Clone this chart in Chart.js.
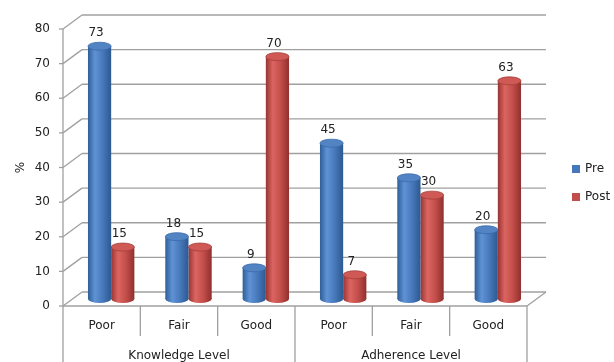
<!DOCTYPE html>
<html>
<head>
<meta charset="utf-8">
<script src="https://cdn.jsdelivr.net/npm/chart.js@4.4.0/dist/chart.umd.min.js"></script>
<style>
  html, body { margin: 0; padding: 0; background: #fff; }
  #wrap { width: 614px; height: 362px; }
</style>
</head>
<body>
<div id="wrap"><canvas id="chart"></canvas></div>
<script>
// data
const categories = ['Poor', 'Fair', 'Good', 'Poor', 'Fair', 'Good'];
const groups = ['Knowledge Level', 'Adherence Level'];
const groupSize = 3;
const seriesNames = ['Pre', 'Post'];
const preValues = [73, 18, 9, 45, 35, 20];
const postValues = [15, 15, 70, 7, 30, 63];
const yMin = 0, yMax = 80, yStep = 10;

// fake 3d depth (back wall offset)
const DX = 19, DY = -14;
const RY = 4;
const FONT = 'DejaVu Sans';
const BAR_SHARE = 0.6;

const blue = { stops: ['#2f5e98', '#5f93d6', '#4677b9', '#2c5990'], top: '#5284c4', rim: '#3a69a8' };
const red = { stops: ['#983432', '#dc6561', '#c24d49', '#8f302e'], top: '#cf5955', rim: '#a53d3a' };

function barLeft(chart, dataIndex, datasetIndex) {
  const xs = chart.scales.x;
  const cw = xs.width / categories.length;
  const pair = cw * BAR_SHARE;
  return { left: xs.getPixelForValue(dataIndex) - pair / 2 + datasetIndex * pair / 2, w: pair / 2 };
}

function cylFill(pal) {
  return function (c) {
    const chart = c.chart;
    if (!chart.chartArea || c.dataIndex === undefined) return pal.stops[2];
    const b = barLeft(chart, c.dataIndex, c.datasetIndex);
    const g = chart.ctx.createLinearGradient(b.left, 0, b.left + b.w, 0);
    g.addColorStop(0, pal.stops[0]);
    g.addColorStop(0.3, pal.stops[1]);
    g.addColorStop(0.65, pal.stops[2]);
    g.addColorStop(1, pal.stops[3]);
    return g;
  };
}

const palettes = [blue, red];

function line(ctx, x1, y1, x2, y2) {
  ctx.beginPath();
  ctx.moveTo(x1, y1);
  ctx.lineTo(x2, y2);
  ctx.stroke();
}

function ellipse(ctx, x, y, rx, ry, fill, stroke) {
  ctx.beginPath();
  ctx.ellipse(x, y, rx, ry, 0, 0, Math.PI * 2);
  ctx.fillStyle = fill;
  ctx.fill();
  if (stroke) { ctx.strokeStyle = stroke; ctx.lineWidth = 0.8; ctx.stroke(); }
}

const box3d = {
  id: 'box3d',
  beforeDatasetsDraw(chart) {
    const { ctx, chartArea: a, scales: { y } } = chart;
    ctx.save();
    ctx.strokeStyle = '#a0a0a0';
    ctx.lineWidth = 1.3;
    y.ticks.forEach(t => {
      const py = y.getPixelForValue(t.value);
      line(ctx, a.left - 4, py, a.left, py);
      line(ctx, a.left, py, a.left + DX, py + DY);
      line(ctx, a.left + DX, py + DY, a.right + DX, py + DY);
    });
    line(ctx, a.right, a.bottom, a.right + DX, a.bottom + DY);
    ctx.restore();

    // bars sit half way into the box
    ctx.save();
    ctx.translate(DX / 2, DY / 2);
    chart.data.datasets.forEach((ds, i) => {
      chart.getDatasetMeta(i).data.forEach(bar => {
        ellipse(ctx, bar.x, bar.base, bar.width / 2, RY, bar.options.backgroundColor);
      });
    });
  },
  afterDatasetsDraw(chart) {
    const ctx = chart.ctx;
    chart.data.datasets.forEach((ds, i) => {
      const pal = palettes[i];
      chart.getDatasetMeta(i).data.forEach(bar => {
        ellipse(ctx, bar.x, bar.y, bar.width / 2, RY, pal.top, pal.rim);
      });
    });
    ctx.restore();

    // value labels
    ctx.save();
    ctx.font = '12px "' + FONT + '"';
    ctx.fillStyle = '#222';
    ctx.textAlign = 'center';
    ctx.textBaseline = 'middle';
    chart.data.datasets.forEach((ds, i) => {
      chart.getDatasetMeta(i).data.forEach((bar, j) => {
        ctx.fillText(String(ds.data[j]), bar.x + DX / 2 - 3.5, bar.y + DY / 2 - 13);
      });
    });
    ctx.restore();
  },
  afterDraw(chart) {
    const { ctx, chartArea: a, scales: { x } } = chart;
    const cw = x.width / categories.length;
    ctx.save();
    ctx.strokeStyle = '#a0a0a0';
    ctx.lineWidth = 1.3;
    line(ctx, a.left, a.top, a.left, a.bottom);
    line(ctx, a.left, a.bottom, a.right, a.bottom);
    for (let i = 0; i <= categories.length; i++) {
      const px = x.getPixelForValue(i) - cw / 2;
      const full = i % groupSize === 0;
      line(ctx, px, a.bottom, px, full ? chart.height : a.bottom + 30);
    }
    ctx.font = '12px "' + FONT + '"';
    ctx.fillStyle = '#222';
    ctx.textAlign = 'center';
    ctx.textBaseline = 'middle';
    categories.forEach((c, i) => ctx.fillText(c, x.getPixelForValue(i), a.bottom + 20));
    groups.forEach((g, k) => {
      const x1 = x.getPixelForValue(k * groupSize) - cw / 2;
      const x2 = x.getPixelForValue(k * groupSize + groupSize - 1) + cw / 2;
      ctx.fillText(g, (x1 + x2) / 2, a.bottom + 50);
    });

    // legend
    ctx.textAlign = 'left';
    seriesNames.forEach((n, i) => {
      const ly = 169 + i * 28;
      ctx.fillStyle = palettes[i].stops[2];
      ctx.fillRect(572, ly - 4, 8, 8);
      ctx.fillStyle = '#222';
      ctx.fillText(n, 585, ly);
    });
    ctx.restore();
  }
};

new Chart(document.getElementById('chart'), {
  type: 'bar',
  data: {
    labels: categories,
    datasets: [
      { label: seriesNames[0], data: preValues, backgroundColor: cylFill(blue), borderWidth: 0 },
      { label: seriesNames[1], data: postValues, backgroundColor: cylFill(red), borderWidth: 0 }
    ]
  },
  options: {
    responsive: true,
    maintainAspectRatio: false,
    animation: false,
    layout: { padding: { left: 0, right: 87, top: 29, bottom: 56 } },
    datasets: { bar: { categoryPercentage: BAR_SHARE, barPercentage: 1 } },
    plugins: { legend: { display: false }, tooltip: { enabled: false } },
    scales: {
      x: { display: false },
      y: {
        min: yMin, max: yMax,
        ticks: { stepSize: yStep, padding: 13, color: '#222', font: { family: FONT, size: 12 } },
        grid: { display: false, drawTicks: false, tickLength: 0 },
        border: { display: false },
        title: { display: true, text: '%', color: '#222', font: { family: FONT, size: 12 }, padding: { top: 14, bottom: 0 } },
        afterFit(scale) { scale.width = 63; }
      }
    }
  },
  plugins: [box3d]
});
</script>
</body>
</html>
